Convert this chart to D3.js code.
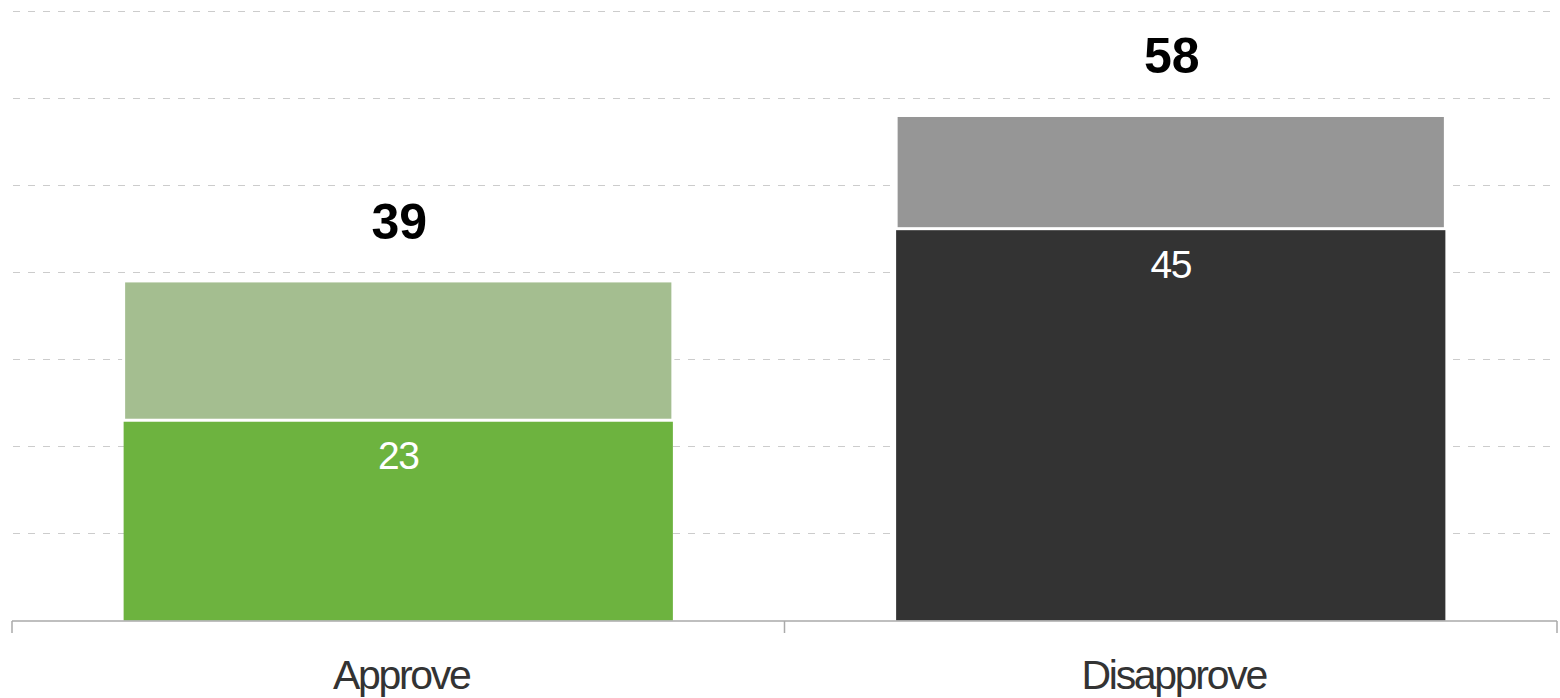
<!DOCTYPE html>
<html>
<head>
<meta charset="utf-8">
<script src="https://cdn.jsdelivr.net/npm/d3@7"></script>
<style>
  html, body { margin: 0; padding: 0; background: #fff; }
  svg { display: block; }
</style>
</head>
<body>
<svg id="chart" width="1560" height="698"></svg>
<script>
const categories = ["Approve", "Disapprove"];
const strongValues = [23, 45];
const totalValues = [39, 58];
const strongColors = ["#6db33f", "#333333"];
const lightColors = ["#a4be90", "#969696"];
const yTicks = [10, 20, 30, 40, 50, 60, 70];

const svg = d3.select("#chart");
const mLeft = 12, mRight = 1557, mTop = 11, mBottom = 620.5;

const x = d3.scaleBand().domain(categories).range([mLeft, mRight])
  .paddingInner(0.289).paddingOuter(0.1445);
const y = d3.scaleLinear().domain([0, 70]).range([mBottom, mTop]);

// gridlines
svg.append("g").selectAll("line").data(yTicks).join("line")
  .attr("x1", mLeft + 1).attr("x2", mRight)
  .attr("y1", d => Math.round(y(d)) + 0.5).attr("y2", d => Math.round(y(d)) + 0.5)
  .attr("stroke", "#cccccc").attr("stroke-width", 1)
  .attr("stroke-dasharray", "7,8");

const data = categories.map((c, i) => ({
  c, strong: strongValues[i], total: totalValues[i], sc: strongColors[i], lc: lightColors[i]
}));

const bars = svg.append("g");
// light (total) segment
bars.selectAll("rect.light").data(data).join("rect").attr("class", "light")
  .attr("x", d => x(d.c)).attr("width", x.bandwidth())
  .attr("y", d => y(d.total)).attr("height", d => y(d.strong) - y(d.total))
  .attr("fill", d => d.lc).attr("stroke", "#fff").attr("stroke-width", 3);
// strong segment
bars.selectAll("rect.strong").data(data).join("rect").attr("class", "strong")
  .attr("x", d => x(d.c)).attr("width", x.bandwidth())
  .attr("y", d => y(d.strong) + 1.5).attr("height", d => y(0) - y(d.strong) - 1.5)
  .attr("fill", d => d.sc);

// axis
const axis = svg.append("g").attr("transform", `translate(0,${mBottom + 0.5})`);
axis.append("line").attr("x1", mLeft).attr("x2", mRight).attr("y1", 0).attr("y2", 0)
  .attr("stroke", "#aaaaaa").attr("stroke-width", 1.5);
const tickXs = [mLeft, x(categories[1]) - x.step() * x.paddingInner() / 2, mRight];
axis.selectAll("line.tick").data(tickXs).join("line").attr("class", "tick")
  .attr("x1", d => d).attr("x2", d => d).attr("y1", 0).attr("y2", 12)
  .attr("stroke", "#aaaaaa").attr("stroke-width", 1.5);

// category labels
svg.append("g").selectAll("text").data(categories).join("text")
  .attr("x", d => x(d) + x.bandwidth() / 2 + 3).attr("y", 689)
  .attr("text-anchor", "middle")
  .attr("font-family", "Liberation Sans, Arial, sans-serif")
  .attr("font-size", 41).attr("letter-spacing", "-2.3px")
  .attr("fill", "#333").text(d => d);

// total labels
svg.append("g").selectAll("text").data(data).join("text")
  .attr("x", d => x(d.c) + x.bandwidth() / 2 + 1).attr("y", d => y(d.total) - 42)
  .attr("text-anchor", "middle")
  .attr("font-family", "Liberation Sans, Arial, sans-serif")
  .attr("font-weight", "bold").attr("font-size", 50)
  .attr("fill", "#000").text(d => d.total);

// strong labels
svg.append("g").selectAll("text").data(data).join("text")
  .attr("x", d => x(d.c) + x.bandwidth() / 2).attr("y", d => y(d.strong) + 49)
  .attr("text-anchor", "middle")
  .attr("font-family", "Liberation Sans, Arial, sans-serif")
  .attr("font-size", 39).attr("letter-spacing", "-1.5px")
  .attr("fill", "#fff").text(d => d.strong);
</script>
</body>
</html>
